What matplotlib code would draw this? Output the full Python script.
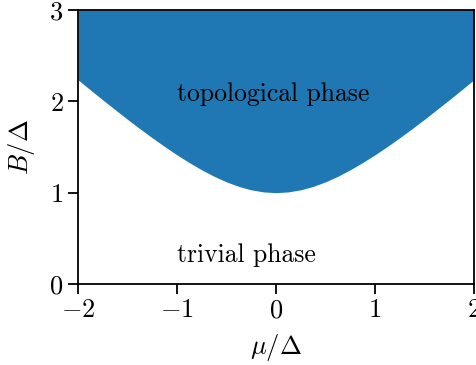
import matplotlib
matplotlib.use('Agg')
import matplotlib.pyplot as plt

plt.rcParams['font.family'] = 'serif'
plt.rcParams['font.serif'] = ['cmr10']
plt.rcParams['mathtext.fontset'] = 'cm'
plt.rcParams['axes.formatter.use_mathtext'] = True
plt.rcParams['axes.unicode_minus'] = True

# phase boundary B/Delta as a function of mu/Delta
mu = [-2.0, -1.875, -1.75, -1.625, -1.5, -1.375, -1.25, -1.125, -1.0,
      -0.875, -0.75, -0.625, -0.5, -0.375, -0.25, -0.125, 0.0,
      0.125, 0.25, 0.375, 0.5, 0.625, 0.75, 0.875, 1.0,
      1.125, 1.25, 1.375, 1.5, 1.625, 1.75, 1.875, 2.0]
b_crit = [2.236, 2.125, 2.016, 1.909, 1.803, 1.700, 1.601, 1.505, 1.414,
          1.329, 1.250, 1.179, 1.118, 1.068, 1.031, 1.008, 1.000,
          1.008, 1.031, 1.068, 1.118, 1.179, 1.250, 1.329, 1.414,
          1.505, 1.601, 1.700, 1.803, 1.909, 2.016, 2.125, 2.236]
b_max = 3

fig = plt.figure(figsize=(4.77, 3.65), dpi=100)
ax = fig.add_axes([0.1635, 0.222, 0.830, 0.7506])

ax.fill_between(mu, b_crit, b_max, color='tab:blue', linewidth=0)

ax.text(-1.0, 2.08, 'topological phase', fontsize=18.5, va='center', ha='left')
ax.text(-1.0, 0.32, 'trivial phase', fontsize=18.5, va='center', ha='left')

ax.set_xlim(-2, 2)
ax.set_ylim(0, 3)
ax.set_xticks([-2, -1, 0, 1, 2])
ax.set_yticks([0, 1, 2, 3])
ax.tick_params(labelsize=19, width=1.3, length=7)
for s in ax.spines.values():
    s.set_linewidth(1.3)
ax.set_xlabel(r'$\mu/\Delta$', fontsize=19, labelpad=7)
ax.set_ylabel(r'$B/\Delta$', fontsize=19, labelpad=9)

fig.savefig('out.png', dpi=100)
